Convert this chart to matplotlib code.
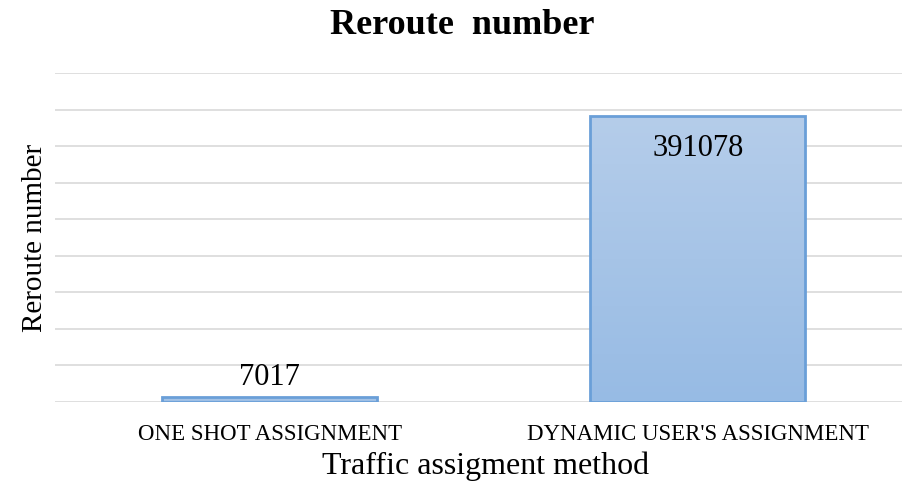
import numpy as np
import matplotlib.pyplot as plt
from matplotlib.colors import LinearSegmentedColormap

plt.rcParams['font.family'] = 'Liberation Serif'

# data
methods = ['ONE SHOT ASSIGNMENT', "DYNAMIC USER'S ASSIGNMENT"]
reroutes = [7017, 391078]
y_ticks = np.arange(0, 450001, 50000)

fig = plt.figure(figsize=(9.02, 4.82), dpi=100)
ax = fig.add_axes([55 / 902, 80 / 482, 847 / 902, 329 / 482])

x = np.arange(len(methods))
bars = ax.bar(x, reroutes, width=0.502, color='none', edgecolor='#6a9fd8',
              linewidth=2, zorder=3)

# vertical gradient fill inside each bar
grad = LinearSegmentedColormap.from_list('g', ['#97bbe4', '#b5cdea'])
for b in bars:
    x0, y0, w, h = b.get_x(), b.get_y(), b.get_width(), b.get_height()
    im = ax.imshow(np.linspace(0, 1, 256).reshape(-1, 1), cmap=grad,
                   origin='lower', aspect='auto', extent=[x0, x0 + w, y0, y0 + h],
                   zorder=2)
    im.set_clip_path(b)

ax.set_xlim(-0.502, 1.477)
ax.set_ylim(0, 450000)
ax.set_yticks(y_ticks)
ax.set_yticklabels([])
ax.tick_params(axis='both', length=0)
ax.grid(axis='y', color='#d9d9d9', linewidth=1.2, zorder=0)
ax.set_axisbelow(True)
for s in ax.spines.values():
    s.set_visible(False)

ax.set_xticks(x)
ax.set_xticklabels(methods, fontsize=16.5)
ax.tick_params(axis='x', pad=16)

# value labels
ax.text(x[0], reroutes[0] + 7000, str(reroutes[0]), ha='center', va='bottom',
        fontsize=22)
ax.text(x[1], reroutes[1] - 24000, str(reroutes[1]), ha='center', va='top',
        fontsize=22)

fig.text(462 / 902, 1 - 25 / 482, 'Reroute  number', ha='center', va='center',
         fontsize=26, fontweight='bold')
fig.text(35 / 902, 1 - 238 / 482, 'Reroute number', ha='center', va='center',
         rotation=90, fontsize=21)
fig.text(486 / 902, 1 - 466 / 482, 'Traffic assigment method', ha='center',
         va='center', fontsize=23)

fig.savefig('out.png', dpi=100)
